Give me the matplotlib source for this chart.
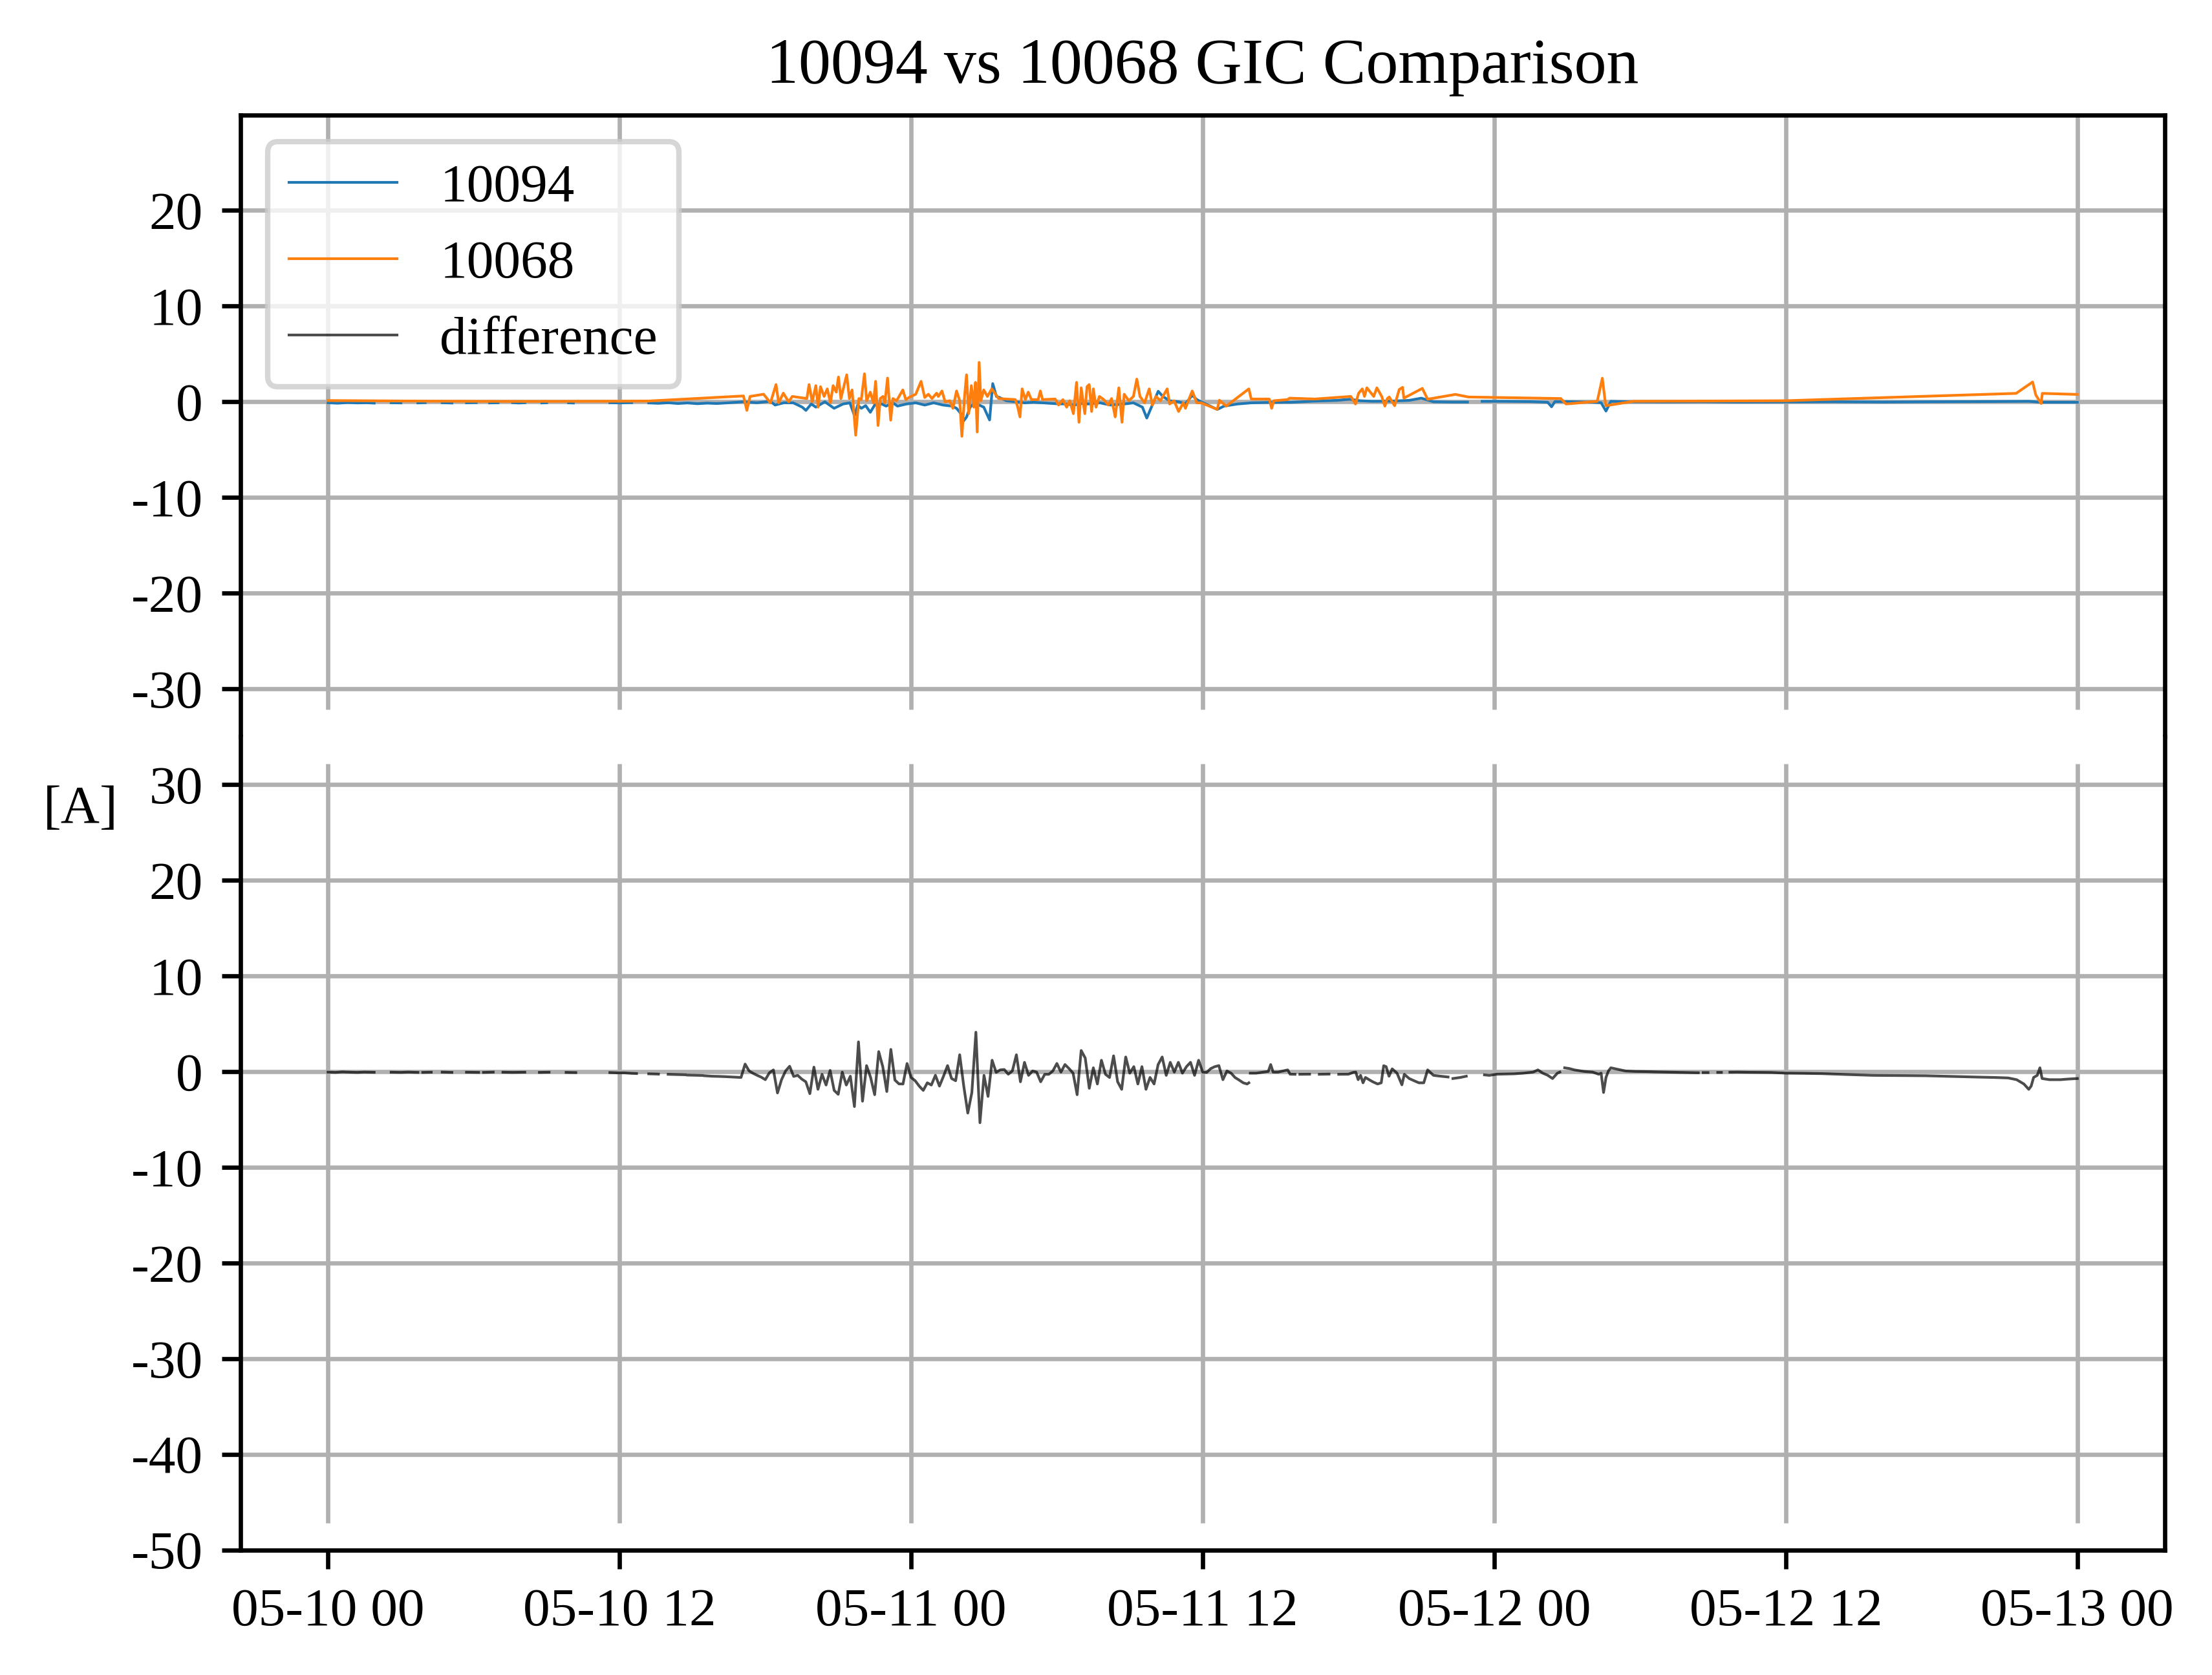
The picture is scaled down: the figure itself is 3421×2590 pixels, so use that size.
import numpy as np
import pandas as pd
import matplotlib
matplotlib.use("Agg")
import matplotlib.pyplot as plt
import matplotlib.dates as mdates

plt.rcParams['font.family'] = ['Liberation Serif', 'DejaVu Serif']
plt.rcParams['axes.unicode_minus'] = False
plt.rcParams['font.size'] = 10

nan = np.nan
BASE = pd.Timestamp('2024-05-10 00:00')

TITLE = '10094 vs 10068 GIC Comparison'
SERIES_NAMES = ['10094', '10068', 'difference']
TICK_HOURS = [0, 12, 24, 36, 48, 60, 72]
TOP_YTICKS = [-30, -20, -10, 0, 10, 20]
BOTTOM_YTICKS = [-50, -40, -30, -20, -10, 0, 10, 20, 30]

# ---- 10068 (sparse samples): (hours since 05-10 00, A)
orange_pts = [
    (0.0, 0.13), (2.0, 0.10), (4.0, 0.07), (6.0, 0.05), (8.0, 0.04), (10.0, 0.05),
    (12.0, 0.06), (13.2, 0.08), (17.1, 0.61), (17.24, -0.90), (17.37, 0.56),
    (17.93, 0.79), (18.21, -0.11), (18.44, 1.80), (18.55, -0.11), (18.74, 0.90),
    (18.96, 0.0), (19.11, 0.56), (19.71, 0.34), (19.8, 1.80), (19.93, 0.0),
    (20.08, 1.69), (20.17, -0.56), (20.27, 1.58), (20.42, 0.56), (20.55, 1.35),
    (20.68, -0.11), (20.79, 1.69), (20.92, 1.01), (21.01, 2.59), (21.11, 0.34),
    (21.24, 1.69), (21.35, 2.82), (21.46, 0.34), (21.57, 1.24), (21.72, -3.49),
    (21.85, 0.34), (21.95, 0.23), (22.08, 2.93), (22.17, 0.11), (22.32, 1.01),
    (22.45, -0.11), (22.54, 2.14), (22.64, -2.48), (22.73, 0.34), (22.84, 0.56),
    (22.92, -0.11), (23.03, 2.48), (23.16, -1.92), (23.25, 0.34), (23.4, 0.11),
    (23.66, 1.24), (23.78, 0.23), (23.91, 0.45), (24.19, 0.79), (24.41, 2.14),
    (24.56, 0.45), (24.71, 0.79), (24.86, 0.34), (25.05, 0.90), (25.12, 0.56),
    (25.27, 1.13), (25.4, 0.0), (25.59, 0.11), (25.72, -0.68), (25.87, 1.13),
    (26.0, 0.11), (26.09, -3.61), (26.2, 0.56), (26.28, 2.82), (26.37, -1.24),
    (26.48, 1.69), (26.58, -0.56), (26.65, 2.03), (26.72, -3.16), (26.8, 4.12),
    (26.87, 0.11), (26.99, 1.24), (27.14, 0.56), (27.32, 1.35), (27.45, 0.90),
    (27.6, 0.34), (28.29, 0.23), (28.39, -0.56), (28.48, -1.58), (28.57, 1.35),
    (28.7, 0.23), (28.82, 1.01), (28.95, 0.23), (29.23, 0.23), (29.32, 1.13),
    (29.41, 0.23), (29.93, 0.29), (30.07, -0.34), (30.25, 0.23), (30.4, -0.56),
    (30.53, 0.11), (30.68, -1.24), (30.81, 2.03), (30.91, -2.14), (31.0, 1.46),
    (31.15, -1.24), (31.24, 1.58), (31.33, 1.80), (31.43, -1.01), (31.5, 1.35),
    (31.61, -0.56), (31.75, 0.56), (31.93, 0.23), (32.12, -0.34), (32.25, 0.34),
    (32.4, -1.58), (32.55, 1.46), (32.68, -2.14), (32.77, 0.79), (32.96, 0.11),
    (33.15, 0.56), (33.29, 2.37), (33.42, 0.56), (33.61, -0.11), (33.8, 1.35),
    (33.93, -0.34), (34.08, 0.56), (34.26, 0.11), (34.54, 1.35), (34.64, -0.23),
    (34.82, 0.11), (35.01, -1.01), (35.2, -0.11), (35.29, -0.68), (35.57, 1.13),
    (35.76, -0.11), (35.94, -0.11), (36.6, -0.79), (36.69, 0.16), (36.97, -0.45),
    (37.9, 1.35), (38.0, 0.29), (38.74, 0.29), (38.84, -0.68), (38.93, 0.11),
    (39.49, 0.23), (39.58, 0.38), (40.61, 0.29), (42.1, 0.56), (42.29, -0.23),
    (42.42, 0.90), (42.57, 1.35), (42.66, 0.56), (42.76, 1.46), (43.04, 0.56),
    (43.17, 1.46), (43.37, 0.56), (43.5, -0.45), (43.6, 0.34), (43.68, 0.50),
    (43.9, -0.41), (44.09, 1.28), (44.23, 1.51), (44.28, 0.38), (45.04, 1.40),
    (45.26, 0.27), (46.4, 0.77), (46.94, 0.50), (50.74, 0.34), (50.96, -0.23),
    (52.24, 0.05), (52.45, 2.46), (52.59, -0.41), (53.73, 0.05), (59.98, 0.11),
    (69.48, 0.88), (70.16, 2.07), (70.29, 0.72), (70.51, -0.18), (70.56, 0.88),
    (72.0, 0.77),
]

# ---- 10094 (dense, with data gaps)
blue_early = [
    (0.0, -0.10), (0.4, -0.15), (0.8, -0.08), (1.2, -0.12), (1.6, -0.10), (1.9, -0.14),
    (2.2, nan), (2.6, -0.10), (3.0, -0.12), (3.3, nan), (3.7, -0.12), (4.0, -0.09),
    (4.3, nan), (4.7, -0.10), (5.1, -0.13), (5.4, nan), (5.7, -0.11), (6.1, -0.09),
    (6.4, nan), (6.65, -0.12), (7.0, -0.10), (7.3, nan), (7.6, -0.09), (7.85, -0.13),
    (8.1, -0.10), (8.4, nan), (8.8, -0.12), (9.0, -0.10), (9.4, nan), (9.9, -0.11),
    (10.1, -0.13), (11.0, nan), (11.6, -0.10), (12.0, -0.12), (12.5, -0.09), (12.9, nan),
    (13.2, -0.12), (13.6, -0.16), (14.0, -0.10), (14.4, -0.18), (14.8, -0.12),
    (15.2, -0.20), (15.6, -0.14), (16.0, -0.18), (16.4, -0.12), (16.8, -0.05),
]
blue_active = [
    (17.09, 0.0), (17.65, -0.10), (18.21, 0.05), (18.4, -0.34), (18.77, -0.10),
    (19.15, -0.11), (19.52, -0.56), (19.67, -0.90), (19.89, -0.23), (20.08, -0.56),
    (20.45, 0.0), (20.83, -0.68), (21.2, -0.23), (21.48, -0.11), (21.67, -1.46),
    (21.8, -0.34), (21.95, -0.68), (22.13, -0.40), (22.32, -1.10), (22.5, -0.34),
    (22.79, -0.23), (22.97, -0.45), (23.25, -0.11), (23.44, -0.45), (23.81, -0.23),
    (24.19, -0.11), (24.56, -0.34), (24.93, -0.11), (25.31, -0.34), (25.68, -0.45),
    (25.87, -0.68), (26.05, -1.24), (26.16, -2.00), (26.28, -1.60), (26.43, -0.56),
    (26.61, -0.11), (26.8, -0.34), (26.99, -0.56), (27.23, -1.90), (27.36, 1.90),
    (27.51, 0.56), (27.64, 0.45), (27.92, 0.11), (28.29, 0.0), (28.67, -0.11),
    (29.04, -0.05), (29.41, -0.11), (29.97, -0.20), (30.35, -0.23), (30.72, -0.34),
    (31.09, -0.15), (31.28, -0.23), (31.75, -0.10), (32.21, -0.34), (32.77, -0.23),
    (33.15, -0.11), (33.52, -0.56), (33.7, -1.70), (33.89, -0.56), (34.17, 1.10),
    (34.36, 0.56), (34.64, 0.11), (35.01, 0.0), (35.29, -0.20), (35.57, 0.68),
    (35.76, 0.23), (35.94, 0.0), (36.22, -0.34), (36.6, -0.80), (36.88, -0.45),
    (37.44, -0.23),
]
blue_late = [
    (38.0, -0.11), (38.74, -0.07), (39.68, -0.05), (40.61, 0.07), (41.54, 0.15),
    (42.05, 0.27), (42.48, 0.11), (43.0, 0.05), (43.75, 0.07), (44.5, 0.15),
    (45.0, 0.38), (45.5, 0.0), (46.3, -0.03), (46.9, -0.03), (47.2, nan),
    (47.5, 0.05), (48.5, 0.05), (49.5, 0.02), (50.2, -0.05), (50.36, -0.52),
    (50.5, 0.03), (51.3, 0.0), (52.1, -0.05), (52.4, -0.10), (52.6, -0.97),
    (52.8, 0.05), (53.5, 0.0), (55.0, -0.02), (56.5, 0.0), (58.0, -0.03),
    (60.0, -0.02), (62.0, 0.0), (64.0, -0.03), (66.0, 0.0), (68.0, 0.02),
    (70.0, 0.05), (70.5, -0.05), (71.0, -0.05), (72.0, -0.05),
]

# ---- difference (10094 - 10068)
diff_early = [
    (0.0, -0.07), (0.3, -0.10), (0.6, -0.05), (0.9, -0.08), (1.2, -0.10), (1.5, -0.07),
    (1.9, -0.09), (2.2, nan), (2.6, -0.08), (3.0, -0.10), (3.3, -0.07), (3.7, -0.10),
    (3.8, nan), (3.9, -0.10), (4.25, -0.08), (4.5, nan), (4.7, -0.07), (5.1, -0.10),
    (5.4, nan), (5.7, -0.08), (6.2, -0.10), (6.3, nan), (6.4, -0.10), (6.8, -0.07),
    (7.0, nan), (7.2, -0.08), (7.6, -0.10), (8.1, -0.08), (8.4, nan), (8.7, -0.10),
    (9.1, -0.08), (9.5, nan), (9.8, -0.10), (10.2, -0.12), (11.0, nan), (11.6, -0.12),
    (11.9, -0.15), (12.2, -0.15), (12.5, -0.20), (12.7, -0.22), (13.0, nan),
    (13.2, -0.25), (13.6, -0.28), (13.8, nan), (14.0, -0.30), (14.3, -0.32),
    (14.7, -0.35), (14.75, nan), (14.8, -0.38), (15.1, -0.40), (15.4, -0.42),
    (15.45, nan), (15.5, -0.45), (15.8, -0.50), (16.1, -0.52), (16.4, -0.55),
    (16.8, -0.60),
]
# storm interval, 10-minute samples from 05-10 17:00 to 05-11 13:00
diff_active_start = '2024-05-10 17:00'
diff_active_vals = [
    -0.63, 0.77, 0.05, -0.20, -0.41, -0.60, -0.86, -0.14, 0.16, -2.25,
    -0.86, 0.05, 0.54, -0.52, -0.41, -0.80, -1.08, -2.32, 0.45, -1.87,
    -0.30, -1.42, 0.11, -1.98, -2.39, -0.07, -1.42, -0.50, -3.67, 3.09,
    -3.11, 0.61, -0.63, -2.43, 2.07, 0.50, -2.10, 2.30, -0.90, -1.30,
    -1.31, 0.83, -0.63, -0.97, -1.53, -1.98, -1.19, -1.42, -0.40, -1.53,
    -0.50, 0.61, -0.74, -0.97, 1.74, -1.53, -4.35, -2.21, 4.10, -5.36,
    -0.41, -2.61, 1.17, -0.10, 0.16, 0.20, -0.29, 0.05, 1.74, -1.08,
    0.95, -0.41, 0.05, -0.07, -1.08, -0.30, -0.30, 0.05, 0.83, -0.07,
    0.72, 0.30, -0.18, -2.43, 2.19, 1.40, -1.76, 0.38, -1.31, 1.17,
    -0.30, -0.63, 1.63, -1.08, -1.87, 1.51, -0.18, 0.50, -1.31, 0.50,
    -1.87, -0.63, -1.31, 0.72, 1.51, -0.41, 0.95, -0.07, 0.95, -0.18,
    0.50, 0.95, -0.41, 1.17, -0.07, -0.10, 0.30, 0.50, 0.61, -0.86,
    0.05,
]
diff_late = [
    (37.17, -0.18), (37.33, -0.63), (37.5, -0.90), (37.67, -1.19), (37.83, -1.31),
    (37.9, -1.19), (37.93, nan), (37.96, -0.18), (38.2, -0.18), (38.5, -0.07),
    (38.7, 0.0), (38.8, 0.72), (38.9, -0.07), (39.1, -0.07), (39.5, 0.16),
    (39.6, -0.29), (39.8, -0.30), (39.9, nan), (40.0, -0.30), (40.4, -0.29),
    (40.6, nan), (40.8, -0.30), (41.2, -0.28), (41.4, nan), (41.6, -0.30),
    (42.0, -0.29), (42.2, -0.10), (42.3, -0.07), (42.4, -0.86), (42.5, -0.41),
    (42.6, -1.19), (42.7, -0.63), (42.85, -0.86), (43.0, -1.08), (43.2, -1.31),
    (43.35, -1.19), (43.45, 0.60), (43.55, 0.50), (43.67, -0.50), (43.8, 0.27),
    (44.0, -0.18), (44.2, -1.40), (44.3, -0.30), (44.5, -0.74), (44.7, -0.97),
    (44.9, -1.19), (45.1, -1.19), (45.26, 0.16), (45.5, -0.41), (45.8, -0.50),
    (46.1, -0.58), (46.2, nan), (46.3, -0.74), (46.6, -0.63), (46.85, -0.50),
    (47.2, nan), (47.6, -0.36), (47.8, -0.41), (48.1, -0.29), (48.5, -0.27),
    (48.8, -0.25), (49.2, -0.18), (49.6, -0.07), (49.8, 0.16), (50.0, -0.18),
    (50.2, -0.40), (50.4, -0.74), (50.6, -0.18), (50.7, -0.07), (50.8, nan),
    (50.9, 0.38), (51.1, 0.30), (51.3, 0.16), (51.7, 0.0), (52.05, -0.07),
    (52.3, -0.29), (52.4, -0.18), (52.5, -2.20), (52.6, -0.63), (52.7, 0.05),
    (52.8, 0.38), (53.0, 0.27), (53.4, 0.05), (53.8, 0.0), (54.3, -0.02),
    (54.7, -0.05), (55.1, -0.07), (55.6, -0.09), (56.0, -0.11), (56.4, -0.14),
    (56.5, nan), (56.6, -0.12), (56.8, -0.12), (57.0, nan), (57.2, -0.10),
    (57.35, -0.10), (57.5, nan), (57.7, -0.08), (58.0, -0.07), (58.5, -0.09),
    (59.0, -0.10), (59.4, -0.11), (60.0, -0.18), (60.75, -0.20), (61.5, -0.23),
    (62.5, -0.32), (63.6, -0.41), (64.7, -0.43), (65.75, -0.45), (66.8, -0.52),
    (67.9, -0.59), (68.6, -0.63), (69.15, -0.68), (69.5, -0.86), (69.8, -1.31),
    (70.0, -1.87), (70.1, -1.53), (70.2, -0.63), (70.35, -0.41), (70.46, 0.38),
    (70.55, -0.74), (70.85, -0.86), (71.3, -0.86), (71.6, -0.80), (72.0, -0.74),
]


def split(pts):
    h = np.array([p[0] for p in pts], dtype=float)
    v = np.array([p[1] for p in pts], dtype=float)
    return BASE + pd.to_timedelta(h, unit='h'), v


o_t, o_v = split(orange_pts)
b_parts = [split(blue_early), split(blue_active), split(blue_late)]
b_t = b_parts[0][0].append([b_parts[1][0], b_parts[2][0]])
b_v = np.concatenate([p[1] for p in b_parts])

d_e_t, d_e_v = split(diff_early)
d_a_t = pd.date_range(diff_active_start, periods=len(diff_active_vals), freq='10min')
d_l_t, d_l_v = split(diff_late)
d_t = d_e_t.append([d_a_t, d_l_t])
d_v = np.concatenate([d_e_v, np.array(diff_active_vals, float), d_l_v])

# ---- layout (pixel-derived axes rectangle)
W, H = 3421, 2590
DPI = 600
fig = plt.figure(figsize=(W / DPI, H / DPI), dpi=DPI)
left, right = 372 / W, 3348 / W
top_px, mid_px, bot_px = 177.6, 1138.9, 2396.5
ax1 = fig.add_axes([left, 1 - mid_px / H, right - left, (mid_px - top_px) / H])
ax2 = fig.add_axes([left, 1 - bot_px / H, right - left, (bot_px - mid_px) / H], sharex=ax1)

l1, = ax1.plot(b_t, b_v, color='#1f77b4', lw=0.5, label=SERIES_NAMES[0])
l2, = ax1.plot(o_t, o_v, color='#ff7f0e', lw=0.5, label=SERIES_NAMES[1])
l3, = ax2.plot(d_t, d_v, color='k', alpha=0.7, lw=0.5, label=SERIES_NAMES[2])

ax1.set_ylim(-35, 30)
ax2.set_ylim(-50, 35)
ax1.set_yticks(TOP_YTICKS)
ax2.set_yticks(BOTTOM_YTICKS)

ax2.xaxis.set_major_locator(mdates.HourLocator(byhour=[0, 12]))
ax2.xaxis.set_major_formatter(mdates.DateFormatter('%m-%d %H'))
ax1.tick_params(axis='x', bottom=False, labelbottom=False)

ax1.spines['bottom'].set_visible(False)
ax2.spines['top'].set_visible(False)

for ax in (ax1, ax2):
    ax.grid(True, axis='y')

tick_num = mdates.date2num(BASE + pd.to_timedelta(np.array(TICK_HOURS, float), unit='h'))
gap = 42.0  # px gap of vertical grid near the inner/bottom edges
h1 = mid_px - top_px
h2 = bot_px - mid_px
ax1.vlines(tick_num, gap / h1, 1.0, transform=ax1.get_xaxis_transform(),
           colors='#b0b0b0', linewidth=0.8, zorder=1.5)
ax2.vlines(tick_num, gap / h2, 1 - gap / h2, transform=ax2.get_xaxis_transform(),
           colors='#b0b0b0', linewidth=0.8, zorder=1.5)
ax1.set_ylim(-35, 30)
ax2.set_ylim(-50, 35)

ax1.set_title(TITLE, fontsize=12)
ax1.legend(handles=[l1, l2, l3], loc='upper left')
fig.text(67 / W, 1 - 1271.7 / H, '[A]', ha='left', va='baseline')

fig.savefig('out.png', dpi=DPI)
